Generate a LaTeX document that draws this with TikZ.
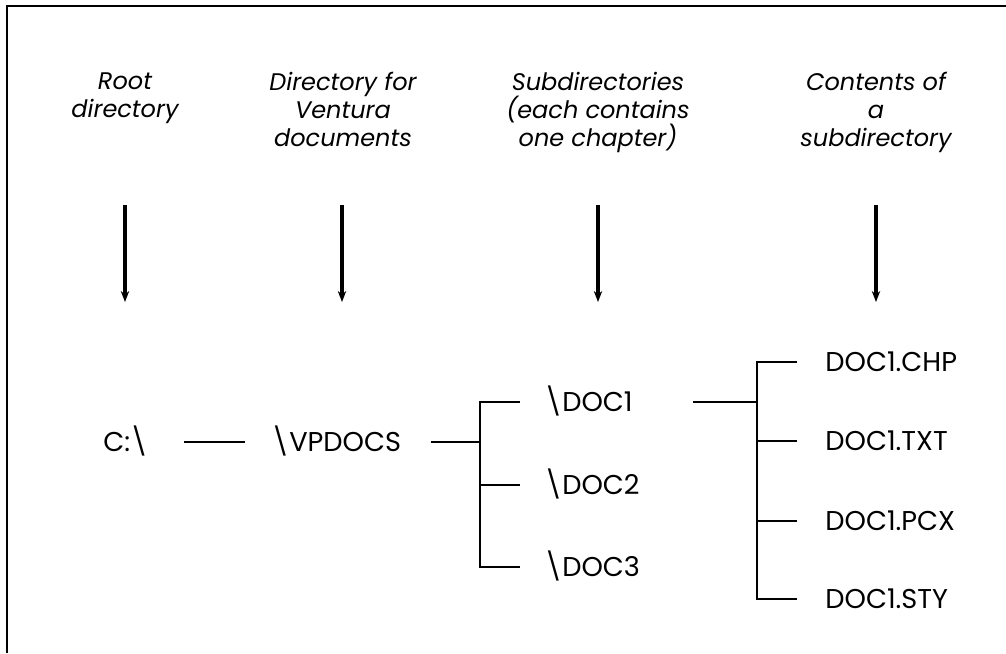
\documentclass[tikz,border=0pt]{standalone}
\usepackage{fontspec}
\setmainfont{Poppins}
\usetikzlibrary{arrows.meta}
\begin{document}
\begin{tikzpicture}[x=0.5pt,y=-0.5pt,
  head/.style={font=\itshape\fontsize{12}{14}\selectfont, align=center,
    inner sep=0pt, anchor=north},
  item/.style={font=\fontsize{13.6}{16}\selectfont, inner sep=0pt,
    text height=9.4pt, text depth=0pt, anchor=west},
  link/.style={line width=0.8pt},
  down/.style={line width=1.7pt, -{Stealth[length=5.5pt,width=4.2pt]}}]
\useasboundingbox (0,0) rectangle (1006,653);
% frame (top and left edges)
\draw[line width=1pt] (7,653) -- (7,6) -- (1006,6);

% column headings
\node[head] (h1) at (125,72) {Root\\directory};
\node[head] (h2) at (343,72) {Directory for\\Ventura\\documents};
\node[head] (h3) at (598,72) {Subdirectories\\(each contains\\one chapter)};
\node[head] (h4) at (876,72) {Contents of\\a\\subdirectory};

% pointers from headings down to the tree levels
\foreach \i/\x in {1/125,2/342,3/598,4/876}{
  \coordinate (t\i) at (\x,205);
  \coordinate (b\i) at (\x,302);
  \draw[down] (t\i) -- (b\i);
}

% directory tree
\node[item] (root) at (103,442) {C:\textbackslash};
\node[item] (vp)   at (271,442) {\textbackslash VPDOCS};
\node[item] (d1)   at (544,402) {\textbackslash DOC1};
\node[item] (d2)   at (544,485) {\textbackslash DOC2};
\node[item] (d3)   at (544,567) {\textbackslash DOC3};
\node[item] (f1)   at (825,362) {DOC1.CHP};
\node[item] (f2)   at (825,441) {DOC1.TXT};
\node[item] (f3)   at (825,521) {DOC1.PCX};
\node[item] (f4)   at (825,599) {DOC1.STY};

\coordinate (j1) at (480,442);
\coordinate (j2) at (757,402);

\draw[link] ([xshift=18pt]root.east) -- ([xshift=-13pt]vp.west);
\draw[link] ([xshift=15pt]vp.east) -- (j1);
\draw[link] ([xshift=-12pt]d1.west) -- (d1.west -| j1) -- (d3.west -| j1)
  -- ([xshift=-12pt]d3.west);
\draw[link] (d2.west -| j1) -- ([xshift=-12pt]d2.west);

\draw[link] ([xshift=30pt]d1.east) -- (j2);
\draw[link] ([xshift=-14pt]f1.west) -- (f1.west -| j2) -- (f4.west -| j2)
  -- ([xshift=-14pt]f4.west);
\draw[link] (f2.west -| j2) -- ([xshift=-14pt]f2.west);
\draw[link] (f3.west -| j2) -- ([xshift=-14pt]f3.west);
\end{tikzpicture}
\end{document}
